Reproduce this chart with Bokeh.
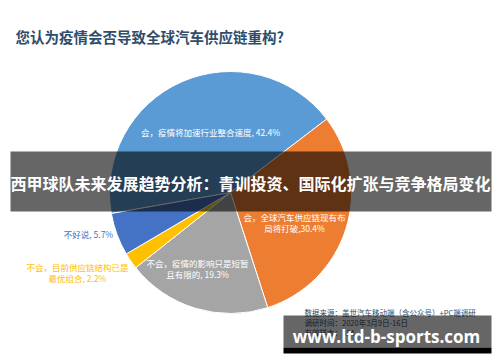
import numpy as np
from bokeh.plotting import figure
from bokeh.models import Range1d, ColumnDataSource
from bokeh.core.properties import value
from bokeh.embed import file_html
from bokeh.resources import INLINE

# ---- data ----
title = "您认为疫情会否导致全球汽车供应链重构?"
categories = ["会，疫情将加速行业整合速度", "会，全球汽车供应链现有布局将打破",
              "不会，疫情的影响只是短暂且有限的", "不会，目前供应链结构已是最优组合", "不好说"]
shares = [42.4, 30.4, 19.3, 2.2, 5.7]
colors = ["#5B9BD5", "#ED7D31", "#A5A5A5", "#FFC000", "#4472C4"]
label_lines = [["会，疫情将加速行业整合速度, 42.4%"],
               ["会，全球汽车供应链现有布", "局将打破,30.4%"],
               ["不会，疫情的影响只是短暂", "且有限的, 19.3%"],
               ["不会，目前供应链结构已是", "最优组合, 2.2%"],
               ["不好说, 5.7%"]]
label_colors = ["white", "white", "white", "#FFC000", "#4472C4"]
source_lines = ["数据来源：盖世汽车移动端（含公众号）+PC端调研",
                "调研时间：2020年3月9日-16日",
                "有效样本：334"]
banner_text = "西甲球队未来发展趋势分析：青训投资、国际化扩张与竞争格局变化"
site_text = "www.ltd-b-sports.com"

FONT = "Noto Sans CJK SC"
W, H = 500, 362
def Y(ys):
    return H - ys

p = figure(width=W, height=H, output_backend="svg", toolbar_location=None,
           x_range=Range1d(0, W), y_range=Range1d(0, H),
           x_axis_type=None, y_axis_type=None, min_border=0)
p.outline_line_color = None
p.grid.visible = False
p.background_fill_color = "white"
p.border_fill_color = "white"

# ---- title ----
p.text(x=[15], y=[Y(36)], text=[title], text_font=value(FONT), text_font_style="bold",
       text_font_size="14.5px", text_color="#2E4D6B", text_baseline="middle", text_align="left")

# ---- pie ----
cx, cy, r = 230, Y(192), 121
start0 = 190.0
vals = np.array(shares)
cum = np.concatenate([[0], np.cumsum(vals)])
starts = np.deg2rad(start0 - cum[:-1] * 3.6)
ends = np.deg2rad(start0 - cum[1:] * 3.6)
src = ColumnDataSource(dict(start=starts, end=ends, color=colors, cat=categories))
p.wedge(x=cx, y=cy, radius=r, radius_units="screen", start_angle="start", end_angle="end",
        direction="clock", fill_color="color", line_color="white", line_width=1, source=src)

# ---- labels ----
label_pos = [(210, [131]), (294, [216.5, 227]), (197, [262, 273]), (77, [266, 277]), (88, [233])]
for lines, col, (lx, lys) in zip(label_lines, label_colors, label_pos):
    p.text(x=[lx] * len(lines), y=[Y(v) for v in lys], text=lines, text_font=value(FONT),
           text_font_size="8.5px", text_color=col, text_align="center", text_baseline="middle")

# ---- source note ----
p.text(x=[304] * 3, y=[Y(312), Y(322), Y(332)], text=source_lines, text_font=value(FONT),
       text_font_size="7.5px", text_color="#2E4D6B", text_align="left", text_baseline="middle")

# ---- overlay banners ----
p.quad(left=[10], right=[491], top=[Y(151)], bottom=[Y(211)], fill_color="black",
       fill_alpha=0.6, line_color=None)
p.text(x=[250], y=[Y(182)], text=[banner_text], text_font=value(FONT), text_font_style="bold",
       text_font_size="16px", text_color="white", text_align="center", text_baseline="middle")

p.quad(left=[283], right=[491], top=[Y(315)], bottom=[Y(347)], fill_color="black",
       fill_alpha=0.6, line_color=None)
p.quad(left=[283], right=[491], top=[Y(347)], bottom=[Y(353)], fill_color="black",
       fill_alpha=1.0, line_color=None)
p.text(x=[386], y=[Y(336)], text=[site_text], text_font=value("Open Sans"), text_font_style="bold",
       text_font_size="17px", text_color="white", text_align="center", text_baseline="middle")

open("out.html", "w").write(file_html(p, INLINE))
